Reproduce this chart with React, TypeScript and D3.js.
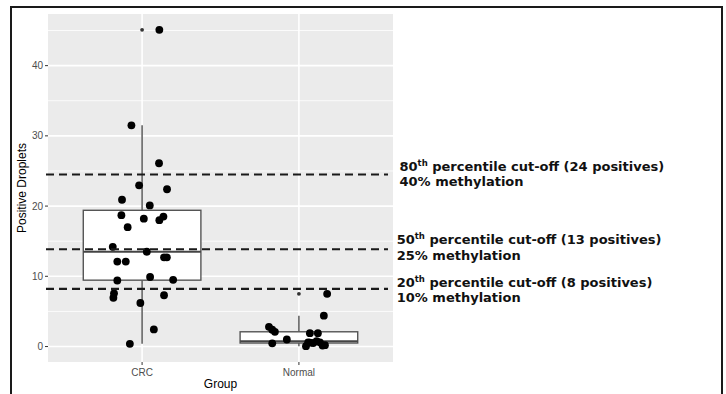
import React from "react";
import * as d3 from "d3";

// values
const groups = ["CRC", "Normal"];

const crcValues = [
  45.1, 31.5, 26.1, 22.96, 22.4, 20.9, 20.1, 18.7, 18.2, 18.0, 18.5, 17.0, 14.2, 13.5,
  12.1, 12.1, 12.7, 12.7, 9.4, 9.9, 9.5, 7.57, 6.95, 7.3, 6.2, 2.43, 0.38,
];
// horizontal jitter of each point, in category units
const crcJitter = [
  0.11, -0.068, 0.108, -0.019, 0.159, -0.128, 0.049, -0.132, 0.011, 0.11, 0.136, -0.092,
  -0.187, 0.03, -0.158, -0.104, 0.14, 0.158, -0.158, 0.051, 0.198, -0.179, -0.183, 0.14,
  -0.011, 0.075, -0.078,
];

const normalValues = [
  0.05, 0.15, 0.2, 0.45, 0.5, 0.55, 0.6, 0.6, 0.75, 1.0, 1.9, 1.9, 2.1, 2.4, 2.8, 4.4, 7.5,
];
const normalJitter = [
  0.045, 0.151, 0.166, -0.17, 0.091, 0.07, 0.134, 0.059, 0.113, -0.077, 0.07, 0.121,
  -0.153, -0.17, -0.191, 0.159, 0.18,
];

const yTicks = [0, 10, 20, 30, 40];
const yMinor = [5, 15, 25, 35, 45];

const cutoffs = [24.5, 13.85, 8.2];
const cutoffLabels = [
  { pct: "80", rest: " percentile cut-off (24 positives)", meth: "40% methylation" },
  { pct: "50", rest: " percentile cut-off (13 positives)", meth: "25% methylation" },
  { pct: "20", rest: " percentile cut-off (8 positives)", meth: "10% methylation" },
];

const W = 726;
const H = 394;
const panel = { left: 48, top: 14, right: 393, bottom: 362 };

function boxStats(values: number[]) {
  const s = [...values].sort(d3.ascending);
  const q1 = d3.quantile(s, 0.25)!;
  const med = d3.quantile(s, 0.5)!;
  const q3 = d3.quantile(s, 0.75)!;
  const iqr = q3 - q1;
  const inside = s.filter((v) => v >= q1 - 1.5 * iqr && v <= q3 + 1.5 * iqr);
  const lo = d3.min(inside)!;
  const hi = d3.max(inside)!;
  const outliers = s.filter((v) => v < lo || v > hi);
  return { q1, med, q3, lo, hi, outliers };
}

export default function App() {
  const series = [
    { group: groups[0], values: crcValues, jitter: crcJitter },
    { group: groups[1], values: normalValues, jitter: normalJitter },
  ];

  const all = [...crcValues, ...normalValues];
  const [mn, mx] = d3.extent(all) as [number, number];
  const pad = (mx - mn) * 0.05;

  const x = d3
    .scalePoint<string>()
    .domain(groups)
    .range([panel.left, panel.right])
    .padding(0.6);
  const step = x.step();

  const y = d3
    .scaleLinear()
    .domain([mn - pad, mx + pad])
    .range([panel.bottom, panel.top]);

  const boxW = step * 0.75;
  const sans = "'Liberation Sans', Arial, sans-serif";

  return (
    <div style={{ position: "absolute", left: 0, top: 0 }}>
      <svg width={W} height={H} style={{ display: "block", background: "#fff" }}>
        {/* outer frame */}
        <rect x={11} y={7} width={711} height={400} fill="#fff" stroke="#1a1a1a" strokeWidth={2} />

        {/* panel */}
        <rect
          x={panel.left}
          y={panel.top}
          width={panel.right - panel.left}
          height={panel.bottom - panel.top}
          fill="#EBEBEB"
        />
        {yMinor.map((t) => (
          <line key={"mi" + t} x1={panel.left} x2={panel.right} y1={y(t)} y2={y(t)} stroke="#fff" strokeWidth={0.8} />
        ))}
        {yTicks.map((t) => (
          <line key={"ma" + t} x1={panel.left} x2={panel.right} y1={y(t)} y2={y(t)} stroke="#fff" strokeWidth={1.6} />
        ))}
        {groups.map((g) => (
          <line key={"vg" + g} x1={x(g)} x2={x(g)} y1={panel.top} y2={panel.bottom} stroke="#fff" strokeWidth={1.6} />
        ))}

        {/* boxplots */}
        {series.map((s) => {
          const b = boxStats(s.values);
          const cx = x(s.group)!;
          return (
            <g key={"box" + s.group}>
              <line x1={cx} x2={cx} y1={y(b.q3)} y2={y(b.hi)} stroke="#5a5a5a" strokeWidth={1.5} />
              <line x1={cx} x2={cx} y1={y(b.q1)} y2={y(b.lo)} stroke="#5a5a5a" strokeWidth={1.5} />
              <rect
                x={cx - boxW / 2}
                y={y(b.q3)}
                width={boxW}
                height={y(b.q1) - y(b.q3)}
                fill="#fff"
                stroke="#555"
                strokeWidth={1.4}
              />
              <line x1={cx - boxW / 2} x2={cx + boxW / 2} y1={y(b.med)} y2={y(b.med)} stroke="#444" strokeWidth={2.2} />
              {b.outliers.map((o, i) => (
                <circle key={i} cx={cx} cy={y(o)} r={1.9} fill="#333" />
              ))}
            </g>
          );
        })}

        {/* jittered points */}
        {series.map((s) =>
          s.values.map((v, i) => (
            <circle
              key={s.group + i}
              cx={x(s.group)! + s.jitter[i] * step}
              cy={y(v)}
              r={3.9}
              fill="#000"
            />
          ))
        )}

        {/* cut-off lines */}
        {cutoffs.map((c) => (
          <line
            key={"cut" + c}
            x1={46}
            x2={388}
            y1={y(c)}
            y2={y(c)}
            stroke="#1a1a1a"
            strokeWidth={2.2}
            strokeDasharray="8,5"
          />
        ))}

        {/* y axis */}
        {yTicks.map((t) => (
          <g key={"yt" + t}>
            <line x1={panel.left - 3} x2={panel.left} y1={y(t)} y2={y(t)} stroke="#333" strokeWidth={1} />
            <text x={panel.left - 5} y={y(t)} dy="0.35em" textAnchor="end" fontSize={10} fill="#4D4D4D" fontFamily={sans}>
              {t}
            </text>
          </g>
        ))}
        <text
          transform={`translate(26,${(panel.top + panel.bottom) / 2}) rotate(-90)`}
          textAnchor="middle"
          fontSize={12}
          fill="#000"
          fontFamily={sans}
        >
          Positive Droplets
        </text>

        {/* x axis */}
        {groups.map((g) => (
          <g key={"xt" + g}>
            <line x1={x(g)} x2={x(g)} y1={panel.bottom} y2={panel.bottom + 3} stroke="#333" strokeWidth={1} />
            <text x={x(g)} y={panel.bottom + 13.5} textAnchor="middle" fontSize={10} fill="#4D4D4D" fontFamily={sans}>
              {g}
            </text>
          </g>
        ))}
        <text
          x={(panel.left + panel.right) / 2}
          y={388}
          textAnchor="middle"
          fontSize={12}
          fill="#000"
          fontFamily={sans}
        >
          Group
        </text>

        {/* annotations */}
        {cutoffLabels.map((l, i) => {
          const base = [170.5, 244.3, 286.7][i];
          const lx = [399.5, 396.7, 396.7][i];
          return (
            <g key={"lab" + i} fontFamily="'DejaVu Sans', Verdana, sans-serif" fontWeight="bold" fontSize={13} fill="#111">
              <text x={lx} y={base}>
                {l.pct}
                <tspan fontSize={8.5} dy={-5}>th</tspan>
                <tspan dy={5}>{l.rest}</tspan>
              </text>
              <text x={lx} y={base + 15.3}>
                {l.meth}
              </text>
            </g>
          );
        })}
      </svg>
    </div>
  );
}
